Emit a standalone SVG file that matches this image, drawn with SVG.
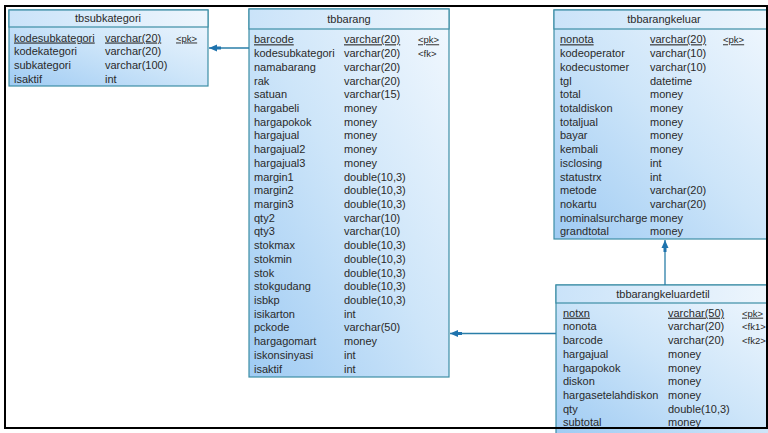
<svg xmlns="http://www.w3.org/2000/svg" width="768" height="433" viewBox="0 0 768 433">
<defs>
<linearGradient id="bg" x1="0" y1="1" x2="1" y2="0">
<stop offset="0" stop-color="#9fcbf3"/>
<stop offset="0.5" stop-color="#cde5f9"/>
<stop offset="1" stop-color="#f2f8fe"/>
</linearGradient>
<linearGradient id="hg" x1="0" y1="0" x2="1" y2="0">
<stop offset="0" stop-color="#cae3f9"/>
<stop offset="1" stop-color="#eef6fd"/>
</linearGradient>
<marker id="arr" markerWidth="14" markerHeight="10" refX="13" refY="5" orient="auto" markerUnits="userSpaceOnUse">
<path d="M13,5 L5,1.5 L5,3.5 L1,3.5 L1,6.5 L5,6.5 L5,8.5 Z" fill="#1f73ad"/>
</marker>
</defs>
<style>
.box{fill:url(#bg);stroke:#3c8ea6;stroke-width:1.2}
.hdr{fill:url(#hg);stroke:#3c8ea6;stroke-width:1.2}
text{font-family:"Liberation Sans",Arial,sans-serif;font-size:11px;fill:#2a2a2a}
.t{text-anchor:middle}
.u{text-decoration:underline}
.k{font-size:9.5px}
.c{stroke:#2a7ea8;stroke-width:1.3;fill:none}
</style>
<rect x="0" y="0" width="768" height="433" fill="#ffffff"/>

<g id="tbsubkategori">
<rect class="box" x="9" y="10" width="199" height="76"/>
<rect class="hdr" x="9" y="10" width="199" height="17"/>
<text class="t" x="108" y="22">tbsubkategori</text>
<text x="14" y="41.5" class="u">kodesubkategori</text><text x="105" y="41.5" class="u">varchar(20)</text><text x="176" y="41.5" class="u k">&lt;pk&gt;</text>
<text x="14" y="55.2">kodekategori</text><text x="105" y="55.2">varchar(20)</text>
<text x="14" y="68.9">subkategori</text><text x="105" y="68.9">varchar(100)</text>
<text x="14" y="82.6">isaktif</text><text x="105" y="82.6">int</text>
</g>

<g id="tbbarang">
<rect class="box" x="249" y="9" width="200" height="368"/>
<rect class="hdr" x="249" y="9" width="200" height="20"/>
<text class="t" x="349" y="22.5">tbbarang</text>
<text x="254" y="43.3" class="u">barcode</text><text x="344" y="43.3" class="u">varchar(20)</text><text x="418" y="43.3" class="u k">&lt;pk&gt;</text>
<text x="254" y="57">kodesubkategori</text><text x="344" y="57">varchar(20)</text><text x="418" y="57" class="k">&lt;fk&gt;</text>
<text x="254" y="70.7">namabarang</text><text x="344" y="70.7">varchar(20)</text>
<text x="254" y="84.5">rak</text><text x="344" y="84.5">varchar(20)</text>
<text x="254" y="98.2">satuan</text><text x="344" y="98.2">varchar(15)</text>
<text x="254" y="111.9">hargabeli</text><text x="344" y="111.9">money</text>
<text x="254" y="125.6">hargapokok</text><text x="344" y="125.6">money</text>
<text x="254" y="139.3">hargajual</text><text x="344" y="139.3">money</text>
<text x="254" y="153.1">hargajual2</text><text x="344" y="153.1">money</text>
<text x="254" y="166.8">hargajual3</text><text x="344" y="166.8">money</text>
<text x="254" y="180.5">margin1</text><text x="344" y="180.5">double(10,3)</text>
<text x="254" y="194.2">margin2</text><text x="344" y="194.2">double(10,3)</text>
<text x="254" y="207.9">margin3</text><text x="344" y="207.9">double(10,3)</text>
<text x="254" y="221.7">qty2</text><text x="344" y="221.7">varchar(10)</text>
<text x="254" y="235.4">qty3</text><text x="344" y="235.4">varchar(10)</text>
<text x="254" y="249.1">stokmax</text><text x="344" y="249.1">double(10,3)</text>
<text x="254" y="262.8">stokmin</text><text x="344" y="262.8">double(10,3)</text>
<text x="254" y="276.5">stok</text><text x="344" y="276.5">double(10,3)</text>
<text x="254" y="290.3">stokgudang</text><text x="344" y="290.3">double(10,3)</text>
<text x="254" y="304">isbkp</text><text x="344" y="304">double(10,3)</text>
<text x="254" y="317.7">isikarton</text><text x="344" y="317.7">int</text>
<text x="254" y="331.4">pckode</text><text x="344" y="331.4">varchar(50)</text>
<text x="254" y="345.1">hargagomart</text><text x="344" y="345.1">money</text>
<text x="254" y="358.9">iskonsinyasi</text><text x="344" y="358.9">int</text>
<text x="254" y="372.6">isaktif</text><text x="344" y="372.6">int</text>
</g>

<g id="tbbarangkeluar">
<rect class="box" x="554" y="10" width="220" height="229"/>
<rect class="hdr" x="554" y="10" width="220" height="19"/>
<text class="t" x="664" y="23">tbbarangkeluar</text>
<text x="560" y="43.3" class="u">nonota</text><text x="650" y="43.3" class="u">varchar(20)</text><text x="723" y="43.3" class="u k">&lt;pk&gt;</text>
<text x="560" y="57">kodeoperator</text><text x="650" y="57">varchar(10)</text>
<text x="560" y="70.7">kodecustomer</text><text x="650" y="70.7">varchar(10)</text>
<text x="560" y="84.5">tgl</text><text x="650" y="84.5">datetime</text>
<text x="560" y="98.2">total</text><text x="650" y="98.2">money</text>
<text x="560" y="111.9">totaldiskon</text><text x="650" y="111.9">money</text>
<text x="560" y="125.6">totaljual</text><text x="650" y="125.6">money</text>
<text x="560" y="139.3">bayar</text><text x="650" y="139.3">money</text>
<text x="560" y="153.1">kembali</text><text x="650" y="153.1">money</text>
<text x="560" y="166.8">isclosing</text><text x="650" y="166.8">int</text>
<text x="560" y="180.5">statustrx</text><text x="650" y="180.5">int</text>
<text x="560" y="194.2">metode</text><text x="650" y="194.2">varchar(20)</text>
<text x="560" y="207.9">nokartu</text><text x="650" y="207.9">varchar(20)</text>
<text x="560" y="221.7">nominalsurcharge</text><text x="650" y="221.7">money</text>
<text x="560" y="235.4">grandtotal</text><text x="650" y="235.4">money</text>
</g>

<g id="tbbarangkeluardetil">
<rect class="box" x="556" y="285" width="216" height="150"/>
<rect class="hdr" x="556" y="285" width="216" height="18"/>
<text class="t" x="663" y="298">tbbarangkeluardetil</text>
<text x="563" y="316.7" class="u">notxn</text><text x="668" y="316.7" class="u">varchar(50)</text><text x="742" y="316.7" class="u k">&lt;pk&gt;</text>
<text x="563" y="330.4">nonota</text><text x="668" y="330.4">varchar(20)</text><text x="742" y="330.4" class="k">&lt;fk1&gt;</text>
<text x="563" y="344.1">barcode</text><text x="668" y="344.1">varchar(20)</text><text x="742" y="344.1" class="k">&lt;fk2&gt;</text>
<text x="563" y="357.8">hargajual</text><text x="668" y="357.8">money</text>
<text x="563" y="371.5">hargapokok</text><text x="668" y="371.5">money</text>
<text x="563" y="385.2">diskon</text><text x="668" y="385.2">money</text>
<text x="563" y="398.9">hargasetelahdiskon</text><text x="668" y="398.9">money</text>
<text x="563" y="412.6">qty</text><text x="668" y="412.6">double(10,3)</text>
<text x="563" y="426">subtotal</text><text x="668" y="426">money</text>
</g>

<g id="connectors">
<line class="c" x1="249" y1="48" x2="209" y2="48" marker-end="url(#arr)"/>
<line class="c" x1="556" y1="333.5" x2="450" y2="333.5" marker-end="url(#arr)"/>
<line class="c" x1="665" y1="285" x2="665" y2="240" marker-end="url(#arr)"/>
</g>

<rect x="5" y="6" width="762" height="422" fill="none" stroke="#000" stroke-width="2"/>
</svg>
